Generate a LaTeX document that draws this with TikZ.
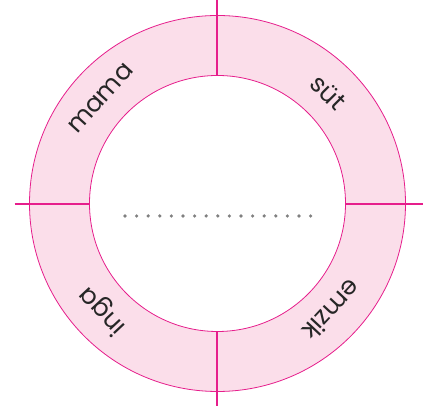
\documentclass[tikz,border=0pt]{standalone}
\usepackage{fontspec}
\setmainfont{Poppins}
\usetikzlibrary{calc}
\definecolor{ringpink}{RGB}{251,222,234}
\definecolor{ringline}{RGB}{230,30,140}
\definecolor{dotgray}{RGB}{128,128,128}
\begin{document}
\begin{tikzpicture}[x=1pt,y=1pt,
  ringtext/.style={font=\fontsize{25}{25}\selectfont, text=black!85, inner sep=0pt, anchor=center},
  ringstroke/.style={draw=ringline, line width=0.8pt},
  crossline/.style={draw=ringline, line width=1.2pt}]
\useasboundingbox (0,0) rectangle (429,409);
\coordinate (c) at (217.5,205.5);
\fill[ringpink, even odd rule] (c) circle[radius=188] (c) circle[radius=128];
\path[ringstroke] (c) circle[radius=188];
\path[ringstroke] (c) circle[radius=128];
\coordinate (vtop) at (217,409);
\coordinate (vtopin) at (217,333.5);
\coordinate (vbot) at (217,3);
\coordinate (vbotin) at (217,77.5);
\coordinate (hl) at (14.7,205);
\coordinate (hlin) at (89.5,205);
\coordinate (hr) at (422.7,205);
\coordinate (hrin) at (345.5,205);
\path[crossline] (vtop) -- (vtopin);
\path[crossline] (vbot) -- (vbotin);
\path[crossline] (hl) -- (hlin);
\path[crossline] (hr) -- (hrin);
\node[ringtext, rotate=48] (mama) at ($(c)+(138:157)$) {mama};
\node[ringtext, rotate=-45] (sut) at ($(c)+(45:157)$) {süt};
\node[ringtext, rotate=133] (inga) at ($(c)+(223:157)$) {inga};
\node[ringtext, rotate=227] (emzik) at ($(c)+(-43:157)$) {emzik};
\foreach \i in {0,...,16} {
  \fill[dotgray] (125+\i*11.6,193) circle[radius=1.8];
}
\end{tikzpicture}
\end{document}
